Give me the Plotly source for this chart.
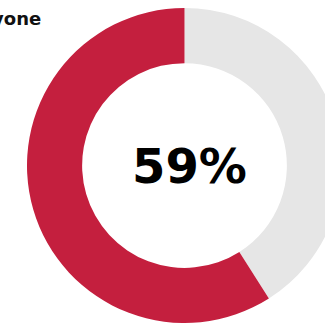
import plotly.graph_objects as go

labels = ["No", "Yes"]
values = [41, 59]
colors = ["#E6E6E6", "#C41F3E"]
center_label = "59%"
title_text = "Everyone"

W, H = 342, 324
cx, cy, r = 184.5, 165.5, 157.5

fig = go.Figure(go.Pie(
    labels=labels, values=values, sort=False, direction="clockwise",
    rotation=0, hole=0.65, textinfo="none", hoverinfo="skip", showlegend=False,
    marker=dict(colors=colors, line=dict(width=0)),
    domain=dict(x=[(cx - r) / W, (cx + r) / W], y=[(H - cy - r) / H, (H - cy + r) / H]),
))

fig.add_annotation(text="<b>%s</b>" % center_label, x=189.5 / W, y=1 - 166 / H,
                   xref="paper", yref="paper", showarrow=False,
                   xanchor="center", yanchor="middle",
                   font=dict(family="DejaVu Sans", size=48, color="#000000"))
fig.add_annotation(text="<b>%s</b>" % title_text, x=43 / W, y=1 - 18 / H,
                   xref="paper", yref="paper", showarrow=False,
                   xanchor="right", yanchor="middle",
                   font=dict(family="DejaVu Sans", size=18, color="#111111"))

fig.update_layout(width=W, height=H, autosize=False,
                  margin=dict(l=0, r=0, t=0, b=0),
                  paper_bgcolor="white", plot_bgcolor="white")

fig.write_html("out.html", config={"displayModeBar": False},
               post_script="document.body.style.margin='0';document.body.style.overflow='hidden';document.documentElement.style.overflow='hidden';")
